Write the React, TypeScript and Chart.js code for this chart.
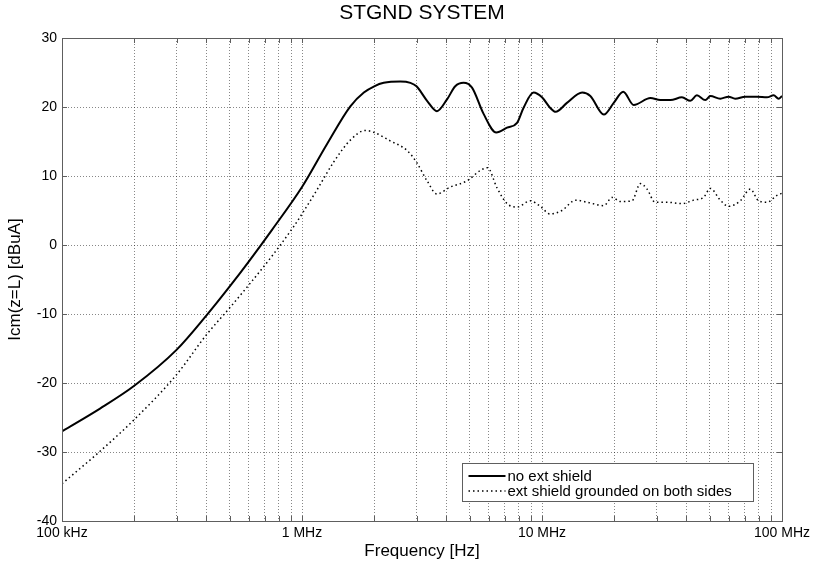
import React, { useEffect, useRef } from 'react';
import { Chart, registerables } from 'chart.js';

Chart.register(...registerables);

const TITLE = 'STGND SYSTEM';
const X_TITLE = 'Frequency [Hz]';
const Y_TITLE = 'Icm(z=L) [dBuA]';
const SERIES_LABELS = ['no ext shield', 'ext shield grounded on both sides'];

// Frequencies in MHz, values in dBuA
const solidFreqMHz = [0.1, 0.144, 0.2, 0.3, 0.4, 0.5, 0.6, 0.75, 1.0, 1.27, 1.59, 1.81, 2.0, 2.19, 2.57, 2.83, 3.0, 3.32, 3.65, 4.02, 4.35, 4.71, 5.11, 5.71, 6.45, 7.15, 7.87, 8.38, 9.22, 10, 10.8, 11.4, 12.7, 14.7, 15.9, 18.1, 19.9, 21.8, 24.1, 28.3, 31.1, 34.3, 38.3, 41.5, 44.2, 47.9, 50.3, 55.3, 59.9, 63.8, 70.3, 78.7, 86.6, 92.3, 96.8, 100];
const solidValues = [-27.0, -23.7, -20.4, -15.2, -10.2, -6.0, -2.4, 2.2, 8.4, 14.6, 20.1, 22.1, 23.0, 23.5, 23.7, 23.5, 23.0, 20.9, 19.4, 21.1, 23.0, 23.5, 22.8, 19.0, 16.3, 17.0, 17.7, 19.9, 22.1, 21.4, 19.9, 19.3, 20.6, 22.1, 21.6, 18.9, 20.6, 22.2, 20.3, 21.3, 21.0, 21.0, 21.4, 20.9, 21.7, 21.0, 21.6, 21.2, 21.5, 21.2, 21.5, 21.5, 21.4, 21.7, 21.2, 21.6];

const dottedFreqMHz = [0.1, 0.144, 0.2, 0.3, 0.4, 0.5, 0.6, 0.75, 0.92, 1.0, 1.155, 1.354, 1.59, 1.835, 2.0, 2.33, 2.74, 3.0, 3.32, 3.65, 4.15, 4.87, 5.53, 5.93, 6.49, 7.15, 7.87, 8.94, 9.84, 10.8, 12.1, 13.8, 15.4, 18.1, 19.6, 21.2, 23.7, 25.7, 27.4, 29.6, 33.2, 38.3, 42.8, 47.1, 50.3, 55.3, 59.9, 67, 73.8, 79.9, 86.6, 95.3, 100];
const dottedValues = [-34.6, -29.9, -25.3, -18.8, -13.0, -9.1, -5.8, -1.6, 2.6, 4.5, 8.0, 12.0, 15.2, 16.6, 16.3, 15.1, 13.7, 12.0, 9.3, 7.4, 8.4, 9.3, 10.8, 11.2, 8.3, 6.0, 5.5, 6.4, 5.6, 4.5, 5.0, 6.5, 6.2, 5.7, 6.9, 6.3, 6.4, 8.9, 8.1, 6.2, 6.2, 6.0, 6.5, 6.9, 8.2, 6.5, 5.6, 6.4, 8.1, 6.4, 6.2, 7.2, 7.5];

const xDecadeHz = [1e5, 1e6, 1e7, 1e8];
const xDecadeLabels = ['100 kHz', '1 MHz', '10 MHz', '100 MHz'];
const xMantissas = [1, 2, 3, 4, 5, 6, 7, 8, 9];
const yTicks = [-40, -30, -20, -10, 0, 10, 20, 30];

const FONT = '"Liberation Sans", Arial, Helvetica, sans-serif';
const FRAME = '#5e5e5e';
const GRID = 'rgba(0,0,0,0.47)';
const TICK_LEN = 5;

const xGridHz: number[] = [];
xDecadeHz.forEach((d, i) => {
  if (i === xDecadeHz.length - 1) {
    xGridHz.push(d);
  } else {
    xMantissas.forEach((m) => xGridHz.push(d * m));
  }
});

const framePlugin = {
  id: 'frameAndLegend',
  afterDraw(chart: any) {
    const { ctx, chartArea } = chart;
    const { left, right, top, bottom } = chartArea;
    const xs = chart.scales.x;
    const ys = chart.scales.y;
    ctx.save();
    ctx.setLineDash([]);
    ctx.strokeStyle = FRAME;
    ctx.lineWidth = 1;
    ctx.beginPath();
    xGridHz.forEach((v) => {
      const px = Math.round(xs.getPixelForValue(v)) + 0.5;
      ctx.moveTo(px, bottom);
      ctx.lineTo(px, bottom - TICK_LEN);
      ctx.moveTo(px, top);
      ctx.lineTo(px, top + TICK_LEN);
    });
    yTicks.forEach((v) => {
      const py = Math.round(ys.getPixelForValue(v)) + 0.5;
      ctx.moveTo(left, py);
      ctx.lineTo(left + TICK_LEN, py);
      ctx.moveTo(right, py);
      ctx.lineTo(right - TICK_LEN, py);
    });
    ctx.stroke();
    ctx.strokeRect(Math.round(left) + 0.5, Math.round(top) + 0.5, Math.round(right - left), Math.round(bottom - top));

    // Legend
    const bx = Math.round(right - 320) + 0.5;
    const by = Math.round(bottom - 58) + 0.5;
    const bw = 291;
    const bh = 38;
    ctx.fillStyle = '#ffffff';
    ctx.fillRect(bx, by, bw, bh);
    ctx.strokeStyle = FRAME;
    ctx.lineWidth = 1;
    ctx.strokeRect(bx, by, bw, bh);
    chart.data.datasets.forEach((ds: any, i: number) => {
      const cy = by + 12.5 + i * 15;
      ctx.strokeStyle = ds.borderColor;
      ctx.lineWidth = ds.borderWidth;
      ctx.setLineDash(ds.borderDash || []);
      ctx.beginPath();
      ctx.moveTo(bx + 6, cy);
      ctx.lineTo(bx + 43, cy);
      ctx.stroke();
      ctx.setLineDash([]);
      ctx.fillStyle = '#000';
      ctx.font = `15px ${FONT}`;
      ctx.textBaseline = 'middle';
      ctx.textAlign = 'left';
      ctx.fillText(ds.label, bx + 45, cy + 0.5);
    });
    ctx.restore();
  },
};

export default function App() {
  const ref = useRef<HTMLCanvasElement>(null);
  useEffect(() => {
    document.body.style.margin = '0';
    const canvas = ref.current;
    if (!canvas) return;
    const chart = new Chart(canvas, {
      type: 'line',
      data: {
        datasets: [
          {
            label: SERIES_LABELS[0],
            data: solidFreqMHz.map((f, i) => ({ x: f * 1e6, y: solidValues[i] })),
            borderColor: '#000000',
            borderWidth: 2,
            pointRadius: 0,
            cubicInterpolationMode: 'monotone',
            fill: false,
          },
          {
            label: SERIES_LABELS[1],
            data: dottedFreqMHz.map((f, i) => ({ x: f * 1e6, y: dottedValues[i] })),
            borderColor: '#000000',
            borderWidth: 1.5,
            borderDash: [1.5, 3],
            pointRadius: 0,
            cubicInterpolationMode: 'monotone',
            fill: false,
          },
        ],
      },
      options: {
        responsive: false,
        animation: false,
        devicePixelRatio: 1,
        layout: { padding: { left: 0, right: 32, top: 0, bottom: 0 } },
        plugins: {
          legend: { display: false },
          tooltip: { enabled: false },
          title: {
            display: true,
            fullSize: false,
            text: TITLE,
            color: '#000',
            font: { family: FONT, size: 21, weight: 'normal', lineHeight: 1.2 },
            padding: { top: 0.5, bottom: 12.3 },
          },
        },
        scales: {
          x: {
            type: 'logarithmic',
            min: 1e5,
            max: 1e8,
            afterBuildTicks: (s: any) => {
              s.ticks = xGridHz.map((v) => ({ value: v }));
            },
            afterFit: (s: any) => {
              s.height = 46;
              s.paddingLeft = 0;
              s.paddingRight = 0;
            },
            ticks: {
              autoSkip: false,
              maxRotation: 0,
              minRotation: 0,
              padding: 4,
              color: '#000',
              font: { family: FONT, size: 14 },
              callback: (v: any) => {
                const i = xDecadeHz.indexOf(Number(v));
                return i >= 0 ? xDecadeLabels[i] : '';
              },
            },
            grid: { color: GRID, lineWidth: 1, drawTicks: false },
            border: { display: false, dash: [1, 2] },
            title: {
              display: true,
              text: X_TITLE,
              color: '#000',
              font: { family: FONT, size: 17, lineHeight: 1.2 },
              padding: { top: 0, bottom: 5 },
            },
          },
          y: {
            type: 'linear',
            min: -40,
            max: 30,
            afterBuildTicks: (s: any) => {
              s.ticks = yTicks.map((v) => ({ value: v }));
            },
            afterFit: (s: any) => {
              s.width = 62;
              s.paddingTop = 0;
              s.paddingBottom = 0;
            },
            ticks: {
              padding: 5,
              color: '#000',
              font: { family: FONT, size: 14 },
            },
            grid: { color: GRID, lineWidth: 1, drawTicks: false },
            border: { display: false, dash: [1, 2] },
            title: {
              display: true,
              text: Y_TITLE,
              color: '#000',
              font: { family: FONT, size: 17, lineHeight: 1.2 },
              padding: { top: 5, bottom: 0 },
            },
          },
        },
      } as any,
      plugins: [framePlugin],
    });
    return () => chart.destroy();
  }, []);
  return <canvas ref={ref} width={814} height={567} style={{ display: 'block' }} />;
}
